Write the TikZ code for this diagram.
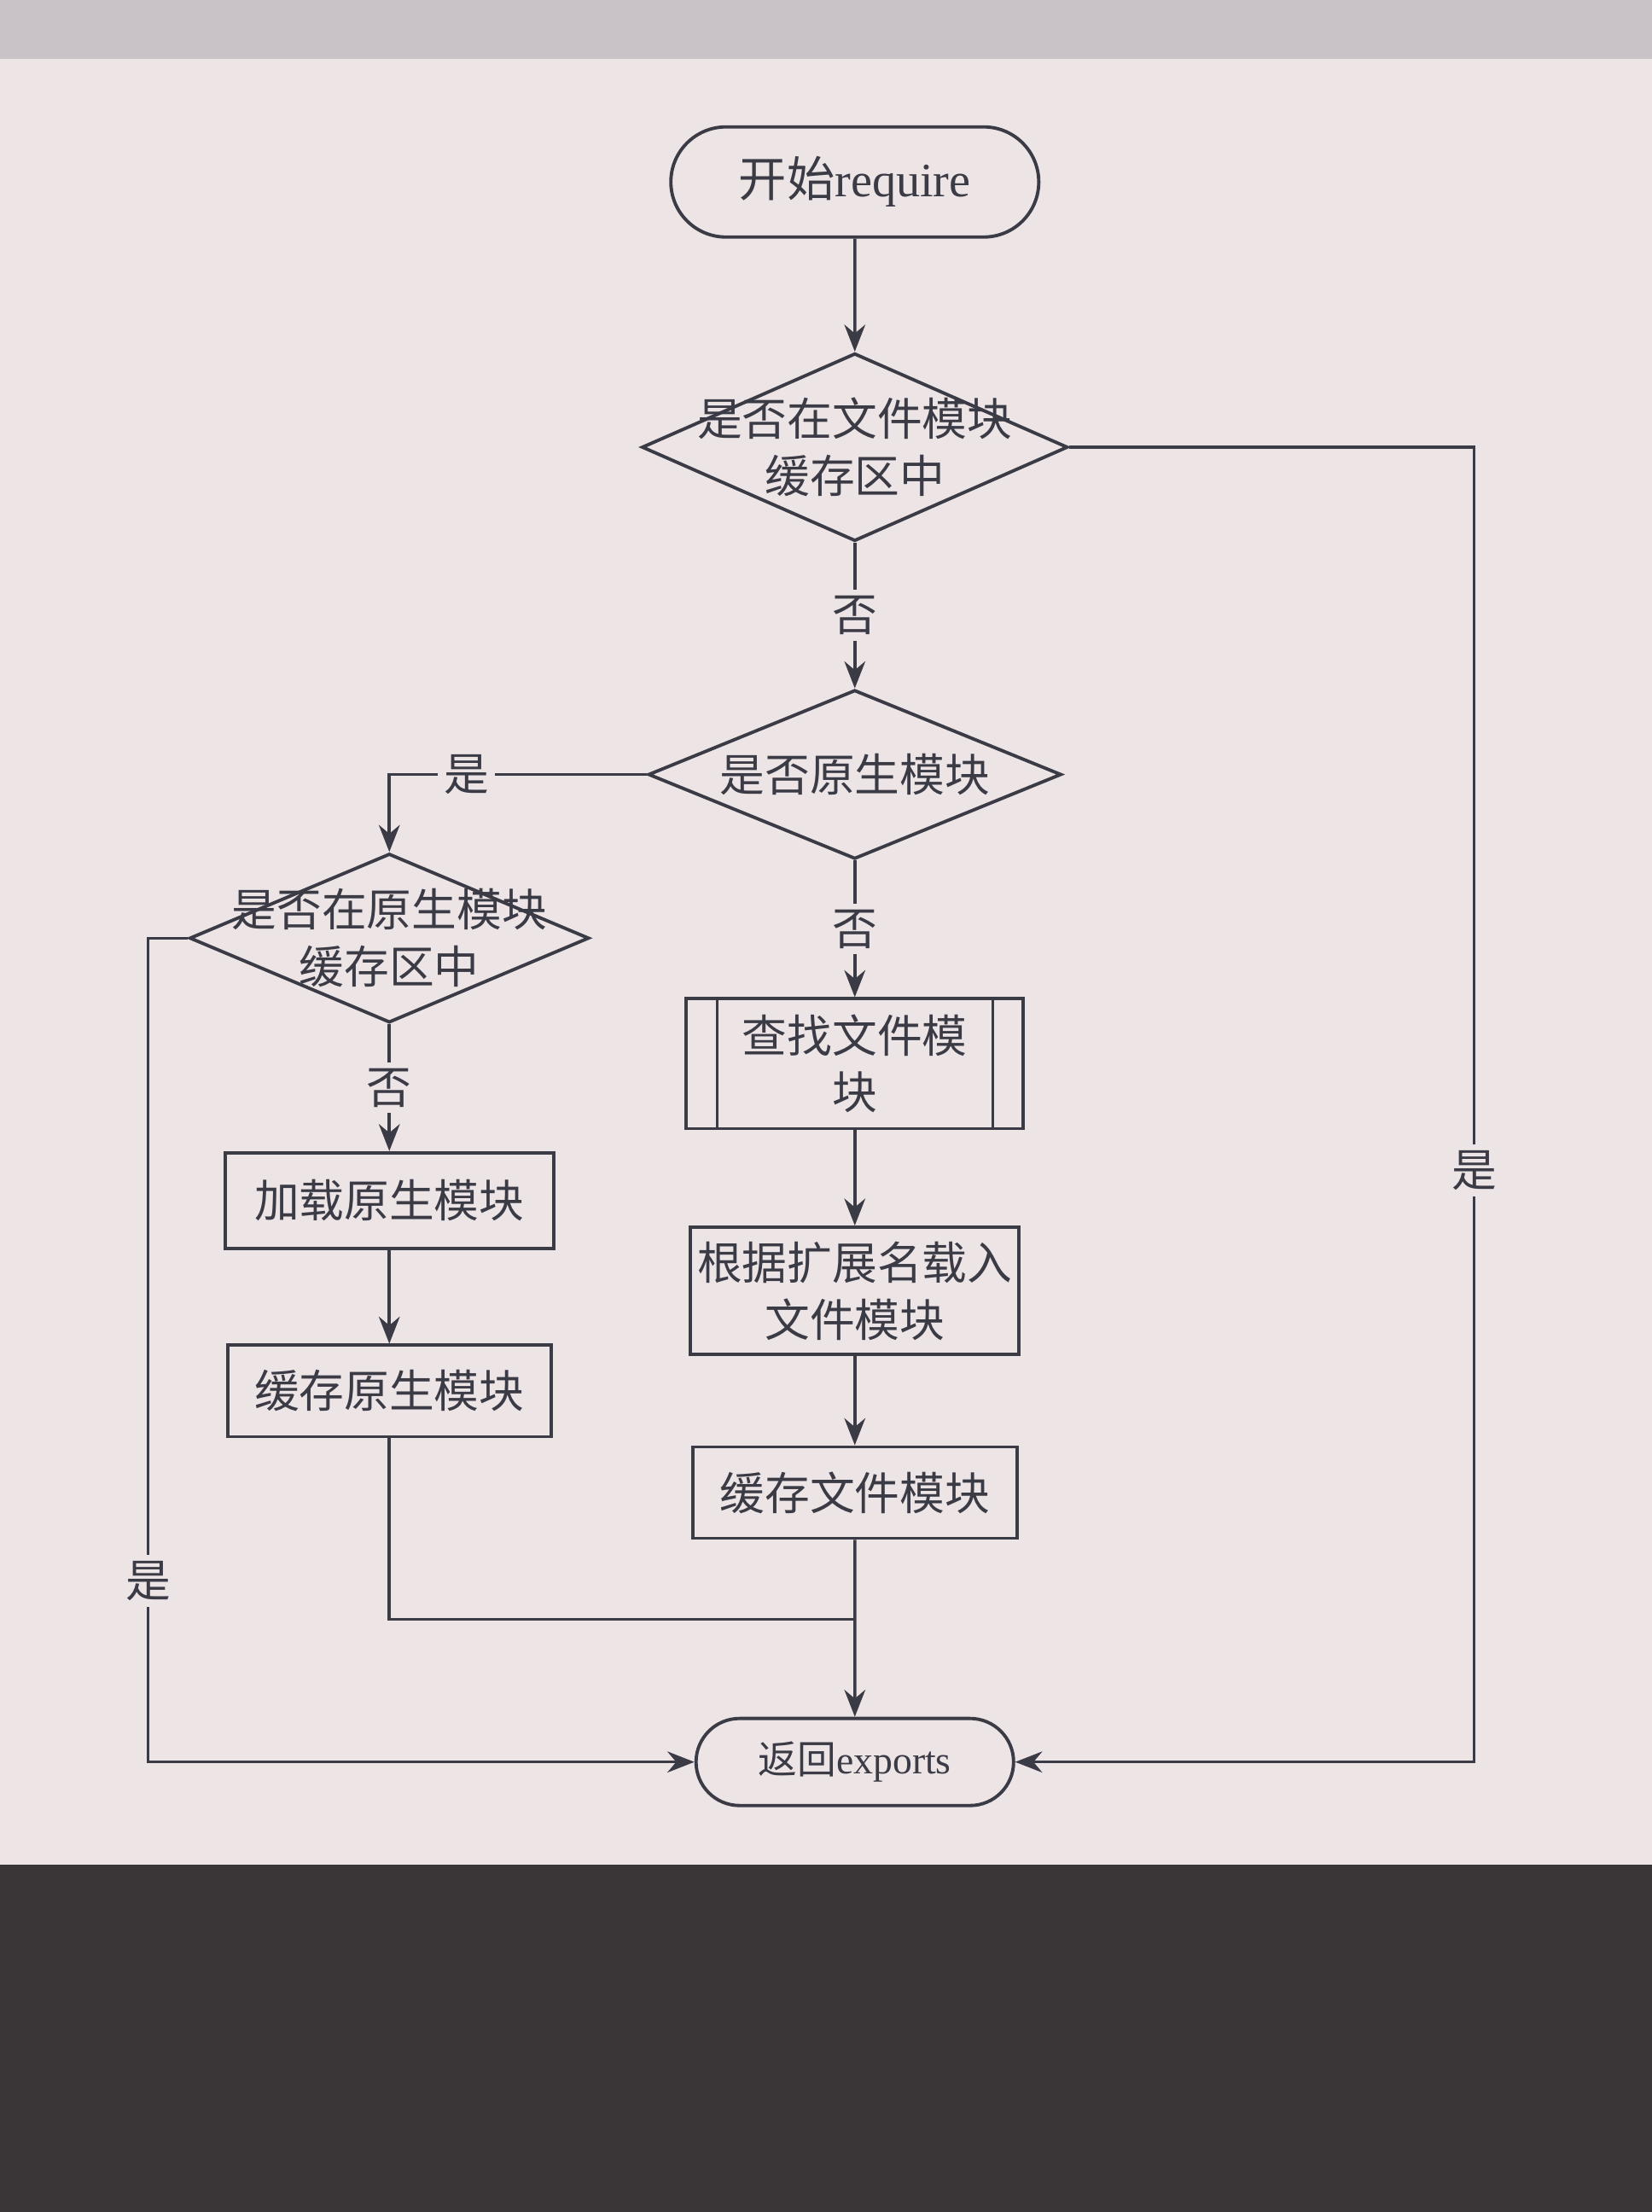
\documentclass[tikz,border=0pt]{standalone}
\usepackage{fontspec}
\setmainfont{Liberation Serif}
\newfontfamily\cjk{Noto Sans CJK SC}
\usepackage{tikz}
\usetikzlibrary{shapes.geometric,shapes.misc,arrows.meta}
\definecolor{screen}{HTML}{EDE4E6}
\definecolor{topband}{HTML}{C9C2C6}
\definecolor{bezel}{HTML}{3A3638}
\definecolor{ink}{HTML}{3B3B46}
\tikzset{
  flow/.style={draw=ink, line width=1.1pt, text=ink, font=\cjk\fontsize{15}{19}\selectfont, align=center, inner sep=0pt},
  terminal/.style={flow, rounded rectangle},
  decision/.style={flow, diamond},
  procbox/.style={flow, rectangle},
  dtext/.style={align=center, text=ink, font=\cjk\fontsize{15}{19}\selectfont},
  line/.style={draw=ink, line width=1pt},
  arrow/.style={line, -{Stealth[length=9pt,width=7pt]}},
  tag/.style={fill=screen, text=ink, font=\cjk\fontsize{15}{19}\selectfont, inner sep=2pt}
}

\begin{document}
\begin{tikzpicture}[x=0.01653cm, y=-0.01653cm]
\fill[screen] (0,0) rectangle (1171,1568);
\fill[topband] (0,0) rectangle (1171,42);
\fill[bezel] (0,1322) rectangle (1171,1568);
\useasboundingbox (0,0) rectangle (1171,1568);

% main column
\node[terminal, minimum width=4.31cm, minimum height=1.29cm, font=\fontsize{16}{19}\selectfont] (start) at (606,129) {{\cjk 开始}require};
\node[decision, minimum width=4.99cm, minimum height=2.20cm, label={[dtext]center:是否在文件模块\\缓存区中}] (filecache) at (606,317) {};
\node[decision, minimum width=4.84cm, minimum height=1.98cm, label={[dtext]center:是否原生模块}] (isnative) at (606,549) {};
\node[procbox, minimum width=3.95cm, minimum height=1.52cm] (findfile) at (606,754) {查找文件模\\块};
\draw[line] ([xshift=0.38cm]findfile.north west) -- ([xshift=0.38cm]findfile.south west);
\draw[line] ([xshift=-0.38cm]findfile.north east) -- ([xshift=-0.38cm]findfile.south east);
\node[procbox, minimum width=3.85cm, minimum height=1.49cm] (loadext) at (606,915) {根据扩展名载入\\文件模块};
\node[procbox, minimum width=3.80cm, minimum height=1.07cm] (savefile) at (606,1058) {缓存文件模块};
\node[terminal, minimum width=3.72cm, minimum height=1.02cm, font=\fontsize{13}{16}\selectfont] (ret) at (606,1249) {{\cjk 返回}exports};

% native column
\node[decision, minimum width=4.68cm, minimum height=1.98cm, label={[dtext]center:是否在原生模块\\缓存区中}] (nativecache) at (276,665) {};
\node[procbox, minimum width=3.85cm, minimum height=1.12cm] (loadnative) at (276,851) {加载原生模块};
\node[procbox, minimum width=3.79cm, minimum height=1.07cm] (savenative) at (276,986) {缓存原生模块};

\coordinate (rtop) at (1045,317);
\coordinate (rbot) at (1045,1249);
\coordinate (ltop) at (105,665);
\coordinate (lbot) at (105,1249);
\coordinate (join) at (606,1148);

\draw[arrow] (start) -- (filecache);
\draw[arrow] (filecache) -- node[tag]{否} (isnative);
\draw[arrow] (isnative) -- node[tag]{否} (findfile);
\draw[arrow] (findfile) -- (loadext);
\draw[arrow] (loadext) -- (savefile);
\draw[arrow] (savefile) -- (ret);
\draw[arrow] (filecache.east) -- (rtop) -- node[tag, pos=0.55]{是} (rbot) -- (ret.east);
\draw[arrow] (isnative.west) -| node[tag, pos=0.35]{是} (nativecache.north);
\draw[arrow] (nativecache) -- node[tag]{否} (loadnative);
\draw[arrow] (loadnative) -- (savenative);
\draw[line] (savenative.south) |- (join);
\draw[arrow] (nativecache.west) -- (ltop) -- node[tag, pos=0.78]{是} (lbot) -- (ret.west);
\end{tikzpicture}
\end{document}
